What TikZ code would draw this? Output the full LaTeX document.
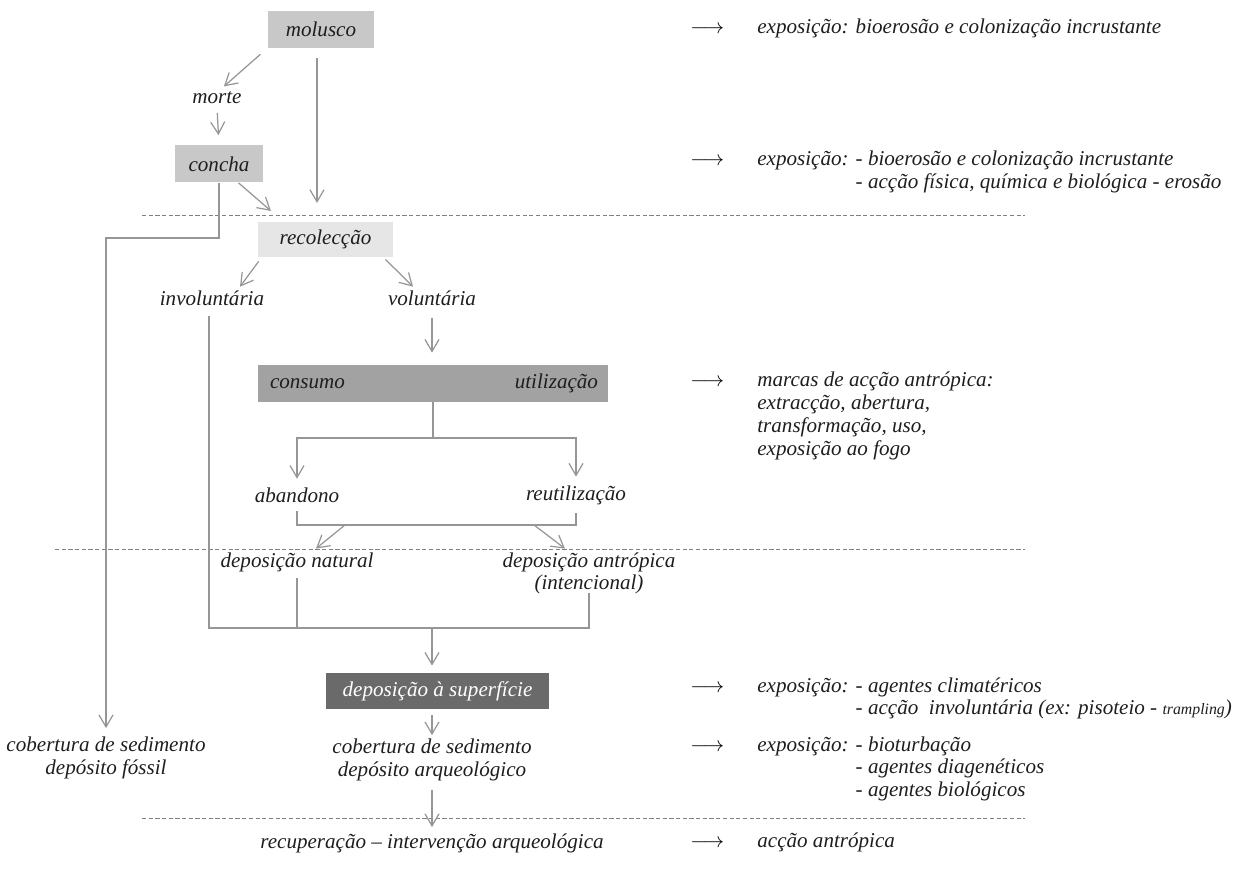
\documentclass[tikz,border=0pt]{standalone}
\usepackage{fontspec}
\setmainfont{Liberation Serif}
\usetikzlibrary{arrows.meta,positioning}

\definecolor{linegray}{RGB}{150,150,150}
\definecolor{txtgray}{RGB}{30,30,30}
\definecolor{boxlight}{RGB}{200,200,200}
\definecolor{boxpale}{RGB}{230,230,230}
\definecolor{boxmid}{RGB}{162,162,162}
\definecolor{boxdark}{RGB}{106,106,106}

\begin{document}
\begin{tikzpicture}[x=0.02cm,y=-0.02cm,
	every node/.style={font=\fontsize{12}{13}\selectfont\itshape, text=txtgray, inner sep=2pt},
	stage/.style={inner sep=0pt, minimum height=0.74cm},
	line/.style={draw=linegray, line width=0.7pt},
	flow/.style={line, -{Straight Barb[length=2.4mm,width=2.8mm]}},
	level/.style={draw=gray, line width=0.4pt, dash pattern=on 2.4pt off 1.4pt},
	note/.style={anchor=base west, inner sep=0pt},
	pointer/.style={anchor=base west, inner sep=0pt, text=black}]
	\useasboundingbox (0,0) rectangle (1248,874);

	% levels
	\draw[level] (142,215) -- (1025,215);
	\draw[level] (55,549) -- (1025,549);
	\draw[level] (142,818) -- (1025,818);

	% stages
	\node[stage, fill=boxlight, minimum width=2.14cm] (molusco) at (321,29.5) {molusco};
	\node (morte) at (217,98) {morte};
	\node[stage, fill=boxlight, minimum width=1.76cm] (concha) at (219,164) {concha};
	\node[stage, fill=boxpale, minimum width=2.7cm, minimum height=0.7cm] (recoleccao) at (325.5,239.5) {recolecção};
	\node (involuntaria) at (212,298) {involuntária};
	\node (voluntaria) at (432,298) {voluntária};
	\node[stage, fill=boxmid, minimum width=7cm] (consumo) at (433,383.5) {};
	\node[anchor=west, inner sep=0pt] (consumotxt) at ([xshift=0.24cm]consumo.west) {consumo};
	\node[anchor=east, inner sep=0pt] (utilizacao) at ([xshift=-0.2cm]consumo.east) {utilização};
	\node (abandono) at (297,495) {abandono};
	\node (reutilizacao) at (576,495) {reutilização};
	\node (depnatural) at (297,562) {deposição natural};
	\node[align=center] (depantropica) at (589,573.5) {deposição antrópica\\(intencional)};
	\node[stage, fill=boxdark, text=white, minimum width=4.46cm, minimum height=0.72cm] (superficie) at (437.5,691) {deposição à superfície};
	\node[align=center] (fossil) at (106,758) {cobertura de sedimento\\depósito fóssil};
	\node[align=center] (arqueologico) at (432,760) {cobertura de sedimento\\depósito arqueológico};
	\node (recuperacao) at (432,843) {recuperação – intervenção arqueológica};

	% junctions
	\coordinate (harvest) at (317,203);
	\coordinate (shellin) at (271,211);
	\coordinate (turn) at (219,238);
	\coordinate (split) at (433,438);
	\coordinate (joinL) at (345,525);
	\coordinate (joinR) at (534,525);
	\coordinate (merge) at (432,628);

	% connectors
	\draw[flow, shorten <=0.18cm, shorten >=0.05cm] (molusco.south west) -- ([xshift=0.1cm]morte.north);
	\draw[flow, shorten <=0.1cm, shorten >=0.2cm] (morte.south) -- (concha.north);
	\draw[flow, shorten <=0.2cm] (molusco.south -| harvest) -- (harvest);
	\draw[flow] (concha.-44) -- (shellin);
	\draw[flow, shorten >=0.1cm] (concha.south) -- (turn) -| (fossil.north);
	\draw[flow, shorten <=0.1cm] ([xshift=0.08cm]recoleccao.south west) -- ([xshift=0.56cm]involuntaria.north);
	\draw[flow, shorten <=0.06cm] ([xshift=-0.2cm]recoleccao.south east) -- ([xshift=-0.38cm]voluntaria.north);
	\draw[flow, shorten <=0.18cm, shorten >=0.24cm] (voluntaria.south) -- (consumo.north -| voluntaria);
	\draw[line] (consumo.south) -- (split);
	\draw[flow, shorten >=0.1cm] (split) -| (abandono.north);
	\draw[flow, shorten >=0.1cm] (split) -| (reutilizacao.north);
	\draw[line, shorten <=0.1cm] (abandono.south) |- (joinL) -- (joinR) -| ([yshift=-0.1cm]reutilizacao.south);
	\draw[flow] (joinL) -- ([xshift=0.38cm]depnatural.north);
	\draw[flow] (joinR) -- ([xshift=-0.48cm]depantropica.north);
	\draw[line, shorten <=0.14cm] ([xshift=-0.06cm]involuntaria.south) |- (depantropica.south |- merge) -- ([yshift=0.1cm]depantropica.south);
	\draw[line, shorten <=0.06cm] (depnatural.south) -- (depnatural.south |- merge);
	\draw[flow, shorten >=0.14cm] (merge) -- (merge |- superficie.north);
	\draw[flow, shorten <=0.12cm] (merge |- superficie.south) -- (arqueologico.north);
	\draw[flow, shorten <=0.1cm, shorten >=0.05cm] (arqueologico.south) -- (recuperacao.north);

	% notes
	\node[pointer] (p1) at (690,34) {$\longrightarrow$};
	\node[note] (n1) at (757,34) {exposição: bioerosão e colonização incrustante};
	\node[pointer] (p2) at (690,166) {$\longrightarrow$};
	\node[note] (n2) at (757,166) {\begin{tabular}[t]{@{}l@{ }l@{}}exposição: & - bioerosão e colonização incrustante\\ & - acção física, química e biológica - erosão\end{tabular}};
	\node[pointer] (p3) at (690,387) {$\longrightarrow$};
	\node[note] (n3) at (757,387) {\begin{tabular}[t]{@{}l@{}}marcas de acção antrópica:\\extracção, abertura,\\transformação, uso,\\exposição ao fogo\end{tabular}};
	\node[pointer] (p4) at (690,692) {$\longrightarrow$};
	\node[note] (n4) at (757,692) {\begin{tabular}[t]{@{}l@{ }l@{}}exposição: & - agentes climatéricos\\ & - acção \ involuntária (ex: pisoteio - {\small trampling})\end{tabular}};
	\node[pointer] (p5) at (690,751) {$\longrightarrow$};
	\node[note] (n5) at (757,751) {\begin{tabular}[t]{@{}l@{ }l@{}}exposição: & - bioturbação\\ & - agentes diagenéticos\\ & - agentes biológicos\end{tabular}};
	\node[pointer] (p6) at (690,847) {$\longrightarrow$};
	\node[note] (n6) at (757,847) {acção antrópica};
\end{tikzpicture}
\end{document}
